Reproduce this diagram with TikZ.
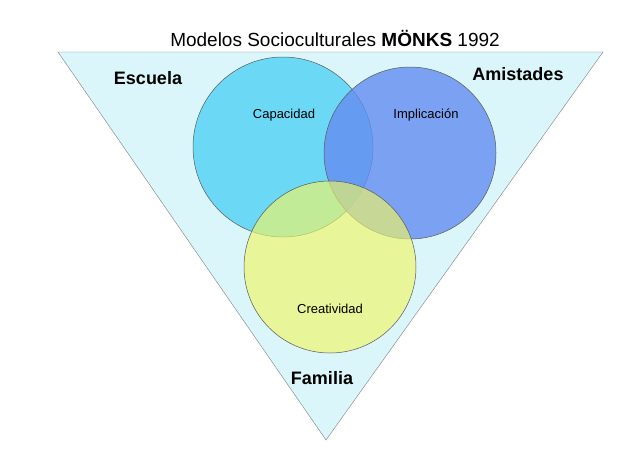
\documentclass[tikz,border=0pt]{standalone}
\usepackage{fontspec}
\setmainfont{Liberation Sans}
\begin{document}
\begin{tikzpicture}[x=1pt,y=-1pt,
  circ/.style={draw=gray!70!black,line width=0.5pt,fill opacity=0.8},
  big/.style={font=\bfseries\fontsize{18}{21}\selectfont},
  small/.style={font=\fontsize{13}{15}\selectfont}]
\useasboundingbox[fill=white] (0,0) rectangle (629,472);
\coordinate (tl) at (58,52); \coordinate (tr) at (603,52); \coordinate (bt) at (326,440);
\draw[fill={rgb,255:red,218;green,246;blue,250},draw=gray] (tl) -- (tr) -- (bt) -- cycle;
\node[circ,circle,minimum size=180pt,fill={rgb,255:red,80;green,210;blue,245}] (cap) at (283,147) {};
\node[circ,circle,minimum size=172pt,fill={rgb,255:red,100;green,140;blue,240}] (imp) at (410,153) {};
\node[circ,circle,minimum size=172pt,fill={rgb,255:red,240;green,245;blue,100},fill opacity=0.65] (cre) at (330,267) {};
\node[font=\fontsize{19}{23}\selectfont] (title) at (335,38) {Modelos Socioculturales \textbf{MÖNKS} 1992};
\node[big] (esc) at (148,78) {Escuela};
\node[big] (ami) at (518,74) {Amistades};
\node[big] (fam) at (322,378) {Familia};
\node[small] (l1) at (284,115) {Capacidad};
\node[small] (l2) at (426,115) {Implicación};
\node[small] (l3) at (330,309) {Creatividad};
\end{tikzpicture}
\end{document}
